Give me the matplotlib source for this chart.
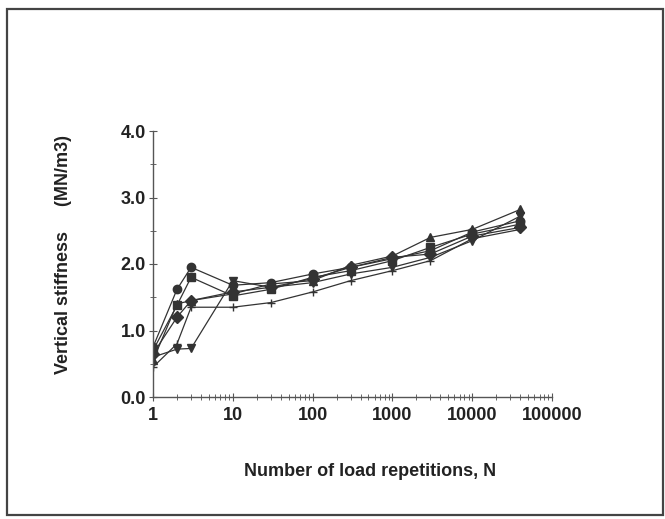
import matplotlib
matplotlib.use("Agg")
import matplotlib.pyplot as plt
from matplotlib.patches import Rectangle
from matplotlib.ticker import LogLocator, FixedLocator, MultipleLocator, NullFormatter

plt.rcParams['font.family'] = ['Liberation Sans', 'DejaVu Sans']
plt.rcParams['font.weight'] = 'bold'

# load repetitions at which stiffness was measured
reps = [1, 2, 3, 10, 30, 100, 300, 1000, 3000, 10000, 40000]

# vertical stiffness (MN/m3) for each test
stiff_a = [0.75, 1.62, 1.95, 1.68, 1.72, 1.85, 1.95, 2.08, 2.20, 2.48, 2.65]
stiff_b = [0.70, 1.38, 1.80, 1.52, 1.62, 1.80, 1.90, 2.05, 2.25, 2.45, 2.60]
stiff_c = [0.65, 1.20, 1.45, 1.58, 1.65, 1.78, 1.95, 2.10, 2.15, 2.42, 2.55]
stiff_d = [0.55, 1.40, 1.45, 1.55, 1.70, 1.75, 1.98, 2.12, 2.40, 2.52, 2.82]
stiff_e = [0.45, 0.80, 1.35, 1.35, 1.42, 1.58, 1.75, 1.90, 2.05, 2.38, 2.52]
stiff_f = [0.60, 0.72, 0.73, 1.75, 1.65, 1.72, 1.85, 1.95, 2.10, 2.35, 2.72]

series = [stiff_a, stiff_b, stiff_c, stiff_d, stiff_e, stiff_f]
markers = ['o', 's', 'D', '^', '+', 'v']

xticks = [1, 10, 100, 1000, 10000, 100000]
xticklabels = ['1', '10', '100', '1000', '10000', '100000']
yticks = [0, 1, 2, 3, 4]
yticklabels = ['0.0', '1.0', '2.0', '3.0', '4.0']

ink = '#222222'
line_col = '#333333'

fig = plt.figure(figsize=(6.65, 5.19), dpi=100)
fig.patches.append(Rectangle((7/665, 4/519), 656/665, 506/519, transform=fig.transFigure,
                             fill=False, edgecolor='#444444', linewidth=1.6))

ax = fig.add_axes([153/665, 1 - 397/519, 399/665, 266/519])
for s, m in zip(series, markers):
    ax.plot(reps, s, color=line_col, linewidth=0.9, marker=m, markersize=6,
            markerfacecolor=line_col, markeredgecolor=line_col, markeredgewidth=1.0)

ax.set_xscale('log')
ax.set_xlim(1, 100000)
ax.set_ylim(0, 4)
ax.xaxis.set_major_locator(FixedLocator(xticks))
ax.set_xticklabels(xticklabels)
ax.xaxis.set_minor_locator(LogLocator(base=10, subs=range(2, 10)))
ax.xaxis.set_minor_formatter(NullFormatter())
ax.set_yticks(yticks)
ax.set_yticklabels(yticklabels)
ax.yaxis.set_minor_locator(MultipleLocator(0.5))

for side in ('top', 'right'):
    ax.spines[side].set_visible(False)
for side in ('left', 'bottom'):
    ax.spines[side].set_color('#555555')
    ax.spines[side].set_linewidth(1.0)

ax.tick_params(which='major', direction='inout', length=6, width=0.8, color='#555555',
               labelsize=13, labelcolor=ink, pad=2)
ax.tick_params(axis='x', which='major', pad=4)
ax.tick_params(which='minor', direction='inout', length=4, width=0.7, color='#666666')

fig.text(64/665, 1 - 254/519, 'Vertical stiffness     (MN/m3)', rotation=90,
         ha='center', va='center', fontsize=13, color=ink, fontweight='bold')
fig.text(370/665, 1 - 472/519, 'Number of load repetitions, N',
         ha='center', va='center', fontsize=13, color=ink, fontweight='bold')

fig.savefig('out.png', dpi=100)
